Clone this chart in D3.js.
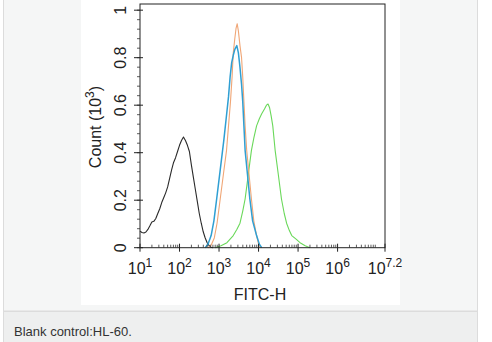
<!DOCTYPE html>
<html><head><meta charset="utf-8">
<script src="https://cdn.jsdelivr.net/npm/d3@7"></script>
<style>
html,body{margin:0;padding:0;background:#fff;}
svg{display:block;font-family:Arial,"Liberation Sans",sans-serif;}
</style></head>
<body>
<svg id="c" width="492" height="342"></svg>
<script>
// exponents (log10 of FITC-H) and counts (10^3)
const blackExp = [1.00,1.05,1.10,1.15,1.20,1.25,1.30,1.35,1.40,1.45,1.50,1.55,1.60,1.65,1.70,1.75,1.80,1.85,1.90,1.95,2.00,2.05,2.10,2.15,2.20,2.25,2.30,2.35,2.40,2.45,2.50,2.55,2.60,2.65,2.70,2.75,2.80,2.85];
const blackVal = [0.070,0.064,0.062,0.066,0.077,0.092,0.108,0.111,0.123,0.144,0.164,0.190,0.210,0.231,0.256,0.292,0.328,0.359,0.379,0.405,0.431,0.451,0.466,0.451,0.431,0.405,0.349,0.297,0.246,0.195,0.144,0.103,0.067,0.041,0.021,0.008,0.002,0.000];

const orangeExp = [2.72,2.80,2.88,2.95,3.03,3.11,3.19,3.24,3.29,3.33,3.36,3.40,3.43,3.46,3.49,3.53,3.57,3.60,3.63,3.66,3.70,3.76,3.82,3.88,3.95,4.00,4.05];
const orangeVal = [0.000,0.010,0.041,0.103,0.205,0.308,0.410,0.513,0.615,0.718,0.820,0.882,0.923,0.943,0.912,0.851,0.800,0.718,0.615,0.513,0.410,0.308,0.205,0.113,0.051,0.015,0.000];

const blueExp = [2.65,2.72,2.80,2.87,2.94,3.03,3.12,3.18,3.24,3.28,3.32,3.36,3.40,3.45,3.49,3.53,3.57,3.60,3.63,3.66,3.72,3.78,3.85,3.95,4.02,4.08];
const blueVal = [0.000,0.015,0.051,0.113,0.205,0.328,0.451,0.543,0.636,0.718,0.779,0.810,0.835,0.851,0.820,0.759,0.687,0.615,0.513,0.410,0.308,0.205,0.113,0.051,0.015,0.000];

const greenExp = [2.90,3.05,3.20,3.36,3.45,3.53,3.60,3.66,3.70,3.74,3.78,3.82,3.88,3.95,4.02,4.08,4.15,4.20,4.24,4.28,4.32,4.36,4.42,4.50,4.58,4.65,4.71,4.78,4.84,4.95,5.05,5.18,5.30];
const greenVal = [0.000,0.008,0.021,0.051,0.077,0.103,0.154,0.205,0.256,0.308,0.359,0.410,0.461,0.513,0.543,0.564,0.584,0.600,0.605,0.589,0.554,0.513,0.410,0.308,0.205,0.144,0.103,0.072,0.051,0.036,0.021,0.008,0.000];

const series = [
  {exp: greenExp, val: greenVal, color: "#6ad85a", w: 1.1},
  {exp: blackExp, val: blackVal, color: "#2a2a2a", w: 1.1},
  {exp: orangeExp, val: orangeVal, color: "#f0a676", w: 1.1},
  {exp: blueExp, val: blueVal, color: "#2f9fd3", w: 1.5}
];

const yTicks = [0, 0.2, 0.4, 0.6, 0.8, 1];
const yTickLabels = ["0", "0.2", "0.4", "0.6", "0.8", "1"];
const xTickExp = [1, 2, 3, 4, 5, 6, 7.2];
const xTickSup = ["1", "2", "3", "4", "5", "6", "7.2"];
const caption = "Blank control:HL-60.";

const svg = d3.select("#c");

// page panels
svg.append("rect").attr("x", 3.5).attr("y", -1).attr("width", 474).attr("height", 312)
  .attr("fill", "#f5f6f6").attr("stroke", "#dcdcdc");
svg.append("rect").attr("x", 3.5).attr("y", 311.5).attr("width", 474).attr("height", 32)
  .attr("fill", "#eeefef").attr("stroke", "#dcdcdc");
svg.append("rect").attr("x", 81).attr("y", 0).attr("width", 319).attr("height", 305).attr("fill", "#fff");

svg.append("text").attr("x", 14).attr("y", 336).attr("font-size", 13)
  .attr("fill", "#333").text(caption);

const L = 140, R = 385, T = 4, B = 247.7;
const yMax = 1.026;
const x = d3.scaleLog().domain([10, Math.pow(10, 7.2)]).range([L, R]);
const y = d3.scaleLinear().domain([0, yMax]).range([B, T]);

const g = svg.append("g");

// lines
const line = d3.line().x(d => x(Math.pow(10, d[0]))).y(d => y(d[1])).curve(d3.curveLinear);
series.forEach(s => {
  const pts = s.exp.map((e, i) => [e, s.val[i]]);
  g.append("path").attr("d", line(pts)).attr("fill", "none")
    .attr("stroke", s.color).attr("stroke-width", s.w).attr("stroke-linejoin", "round");
});

// frame
g.append("rect").attr("x", L).attr("y", T).attr("width", R - L).attr("height", B - T)
  .attr("fill", "none").attr("stroke", "#222").attr("stroke-width", 1);

// x minor ticks
const xMinor = [];
for (let d = 1; d <= 7; d++) for (let m = 2; m <= 9; m++) {
  const v = m * Math.pow(10, d);
  if (v < Math.pow(10, 7.2)) xMinor.push(v);
}
g.selectAll(".xm").data(xMinor).enter().append("line")
  .attr("x1", d => x(d)).attr("x2", d => x(d)).attr("y1", B).attr("y2", B - 3)
  .attr("stroke", "#333").attr("stroke-width", 0.8);
// x major ticks
g.selectAll(".xM").data(xTickExp).enter().append("line")
  .attr("x1", d => x(Math.pow(10, d))).attr("x2", d => x(Math.pow(10, d)))
  .attr("y1", B - 4).attr("y2", B + 4).attr("stroke", "#222").attr("stroke-width", 1);
// x labels
const xl = g.selectAll(".xl").data(xTickExp).enter().append("text")
  .attr("x", d => x(Math.pow(10, d))).attr("y", 274).attr("text-anchor", "middle")
  .attr("font-size", 16).attr("fill", "#222");
xl.append("tspan").text("10");
xl.append("tspan").attr("dy", -7).attr("font-size", 12).text((d, i) => xTickSup[i]);

// y minor ticks
const yMinor = d3.range(0, yMax, 0.04);
g.selectAll(".ym").data(yMinor).enter().append("line")
  .attr("x1", L - 3).attr("x2", L).attr("y1", d => y(d)).attr("y2", d => y(d))
  .attr("stroke", "#333").attr("stroke-width", 0.8);
g.selectAll(".yM").data(yTicks).enter().append("line")
  .attr("x1", L - 6).attr("x2", L + 3).attr("y1", d => y(d)).attr("y2", d => y(d))
  .attr("stroke", "#222").attr("stroke-width", 1);
g.selectAll(".yl").data(yTicks).enter().append("text")
  .attr("transform", d => `translate(126,${y(d)}) rotate(-90)`)
  .attr("text-anchor", "middle").attr("font-size", 16).attr("fill", "#222")
  .text((d, i) => yTickLabels[i]);

// axis titles
const yt = g.append("text").attr("transform", "translate(101,127) rotate(-90)")
  .attr("text-anchor", "middle").attr("font-size", 16).attr("fill", "#222");
yt.append("tspan").text("Count (10");
yt.append("tspan").attr("dy", -7).attr("font-size", 12).text("3");
yt.append("tspan").attr("dy", 7).text(")");

g.append("text").attr("x", 260).attr("y", 300).attr("text-anchor", "middle")
  .attr("font-size", 16).attr("fill", "#222").text("FITC-H");
</script>
</body></html>
